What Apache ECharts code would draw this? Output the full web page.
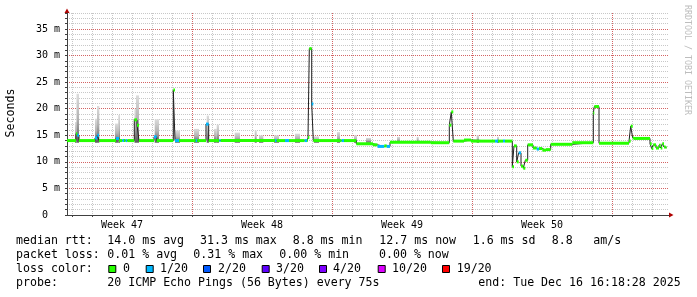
<!DOCTYPE html>
<html><head><meta charset="utf-8">
<script src="https://cdn.jsdelivr.net/npm/echarts@6/dist/echarts.min.js"></script>
<style>html,body{margin:0;padding:0;background:#fff}#c{width:697px;height:297px}</style>
</head><body><div id="c"></div>
<script>
// ---------- data (time in days; day grid lines at integers) ----------
const weekLabels = ['Week 47', 'Week 48', 'Week 49', 'Week 50'];
const weekLabelDays = [2.5, 9.5, 16.5, 23.5];
const dayTicks = [0,1,2,3,4,5,6,7,8,9,10,11,12,13,14,15,16,17,18,19,20,21,22,23,24,25,26,27,28,29];
const yGridValues = [0,1,2,3,4,5,6,7,8,9,10,11,12,13,14,15,16,17,18,19,20,21,22,23,24,25,26,27,28,29,30,31,32,33,34,35,36,37,38];

// median rtt (ms) as steps: value holds from start until next start
const medianStart = [-0.25,0.2,0.265,0.35,1.15,1.265,1.35,2.2,2.35,2.515,2.6,2.685,2.765,3.115,3.25,3.35,4.1,4.235,5.065,5.15,5.35,6.185,6.265,6.7,6.835,7.365,7.435,10.15,10.235,10.65,10.85,11.635,11.765,11.8,11.865,11.985,12.065,13.485,13.6,14.215,15.05,15.275,15.615,15.735,15.9,17.935,18.865,18.965,19.065,19.6,19.95,21.15,21.3,21.55,21.65,22.015,22.1,22.235,22.335,22.45,22.565,22.665,22.785,23.05,23.235,23.35,23.515,23.7,23.935,25.015,26.065,26.115,26.35,27.85,27.935,28.035,28.1,28.9,28.985,29.065,29.2,29.35,29.435,29.515,29.6,29.685];
const medianValue = [14.0,15.3,15.0,14.0,14.5,15.0,14.0,14.4,14.0,14.0,14.0,14.0,14.0,17.9,16.9,14.0,14.7,14.0,23.5,14.0,14.0,14.0,14.0,17.1,14.0,14.0,14.0,14.0,14.0,14.0,14.0,14.0,14.0,14.6,31.3,20.9,14.0,14.0,14.0,13.4,13.2,12.9,13.0,12.9,13.7,13.6,16.9,19.4,13.9,14.1,13.9,13.9,13.9,13.9,13.9,9.1,13.0,10.0,11.7,9.2,8.8,10.3,13.2,12.6,12.4,12.5,12.2,12.3,13.3,13.6,19.2,20.4,13.5,13.9,16.7,14.5,14.4,13.4,12.5,13.2,12.6,13.1,12.6,13.4,12.8,12.7];
const medianLoss = [0,0,1,0,1,1,0,1,0,1,0,1,0,0,0,0,1,0,0,1,0,1,0,1,0,1,0,1,0,1,0,1,0,0,0,1,0,1,0,0,0,1,0,1,0,0,0,0,0,0,0,1,0,1,0,0,0,0,1,0,0,0,0,0,1,0,0,0,0,0,0,0,0,0,0,0,0,0,0,0,0,0,0,0,0,0];
const medianEnd = 29.725;

// smoke columns: start, end, top (ms)
const smokeStart = [0.15,0.225,1.15,1.25,2.15,2.315,3.125,3.2,4.135,5.15,6.1,6.735,7.1,7.235,8.135,9.135,9.35,10.1,11.15,12.1,13.25,14.1,14.7,16.25,17.235,20.235,21.25];
const smokeEnd   = [0.225,0.35,1.25,1.365,2.315,2.4,3.2,3.35,4.35,5.4,6.35,6.85,7.235,7.35,8.4,9.235,9.565,10.35,11.4,12.35,13.4,14.25,14.95,16.4,17.335,20.35,21.35];
const smokeTop   = [17.5,22.8,18.1,20.5,17.2,18.8,20.0,22.5,18.0,15.9,16.2,18.7,16.2,17.0,15.5,15.9,15.0,15.0,15.3,14.8,15.6,15.0,14.5,14.7,14.7,15.0,14.7];

// legend content
const lossLabels = ['0', '1/20', '2/20', '3/20', '4/20', '10/20', '19/20'];
const lossColors = ['#26ff00', '#00b8ff', '#0059ff', '#5e00ff', '#7e00ff', '#dd00ff', '#ff0000'];
const rttStats = ['14.0 ms avg', '31.3 ms max', '8.8 ms min', '12.7 ms now', '1.6 ms sd', '8.8', 'am/s'];
const lossStats = ['0.01 % avg', '0.31 % max', '0.00 % min', '0.00 % now'];
const probeText = '20 ICMP Echo Pings (56 Bytes) every 75s';
const endText = 'end: Tue Dec 16 16:18:28 2025';

// ---------- layout ----------
const MONO = '"DejaVu Sans Mono", monospace';
const LF = 11.6;
const rttX = [107.3, 200, 292.7, 379.3, 472.7, 551.7, 593.3];
const lossX = [107.3, 193.3, 279.3, 379];
const boxX = [108.3, 145.7, 203, 261.7, 319, 377.7, 442];
const boxLabelX = [123, 160, 218, 276, 333, 392, 456.7];
const rowY = [241, 255, 269, 283];

const GRAY = '#c8c8c8', RED = '#d46464';
// day lines: every 7th (Monday) is the red major line
const xSplitColors = [GRAY, GRAY, GRAY, GRAY, GRAY, GRAY, RED];
const ySplitColors = [RED, GRAY, GRAY, GRAY, GRAY];

const medianLine = medianStart.map((t, i) => [t, medianValue[i]]);
medianLine.push([medianEnd, medianValue[medianValue.length - 1]]);
const bandData = medianStart.map((t, i) => [t, i + 1 < medianStart.length ? medianStart[i + 1] : medianEnd, medianValue[i], medianLoss[i]]);
const smokeData = smokeStart.map((t, i) => [t, smokeEnd[i], smokeTop[i], 13.6]);

const graphics = [];
function txt(x, y, s, extra) {
  graphics.push({type: 'text', x: x, y: y, silent: true,
    style: Object.assign({text: s, fontFamily: MONO, fontSize: LF, fill: '#000', verticalAlign: 'middle', align: 'left'}, extra || {})});
}
txt(16, rowY[0], 'median rtt:');
rttStats.forEach((s, i) => txt(rttX[i], rowY[0], s));
txt(16, rowY[1], 'packet loss:');
lossStats.forEach((s, i) => txt(lossX[i], rowY[1], s));
txt(16, rowY[2], 'loss color:');
lossLabels.forEach((s, i) => {
  graphics.push({type: 'rect', silent: true, shape: {x: boxX[i] + 0.5, y: rowY[2] - 3.5, width: 7, height: 7},
    style: {fill: lossColors[i], stroke: '#000', lineWidth: 1}});
  txt(boxLabelX[i], rowY[2], s);
});
txt(16, rowY[3], 'probe:');
txt(107.3, rowY[3], probeText);
txt(478.3, rowY[3], endText);
// y axis title
graphics.push({type: 'text', x: 11, y: 113, rotation: Math.PI / 2, silent: true,
  style: {text: 'Seconds', fontFamily: MONO, fontSize: LF, fill: '#000', align: 'center', verticalAlign: 'middle'}});
// watermark
graphics.push({type: 'text', x: 687.5, y: 60, rotation: -Math.PI / 2, silent: true,
  style: {text: 'RRDTOOL / TOBI OETIKER', fontFamily: MONO, fontSize: 8.3, fill: '#bdbdbd', align: 'center', verticalAlign: 'middle'}});
// axis arrows
graphics.push({type: 'polygon', silent: true, shape: {points: [[64.5, 13], [69.5, 13], [67, 8.5]]}, style: {fill: '#b00000'}});
graphics.push({type: 'polygon', silent: true, shape: {points: [[669, 212.5], [669, 217.5], [673.5, 215]]}, style: {fill: '#b00000'}});

const chart = echarts.init(document.getElementById('c'), null, {renderer: 'canvas'});
chart.setOption({
  animation: false,
  backgroundColor: '#fff',
  grid: {left: 67, right: 28, top: 13, bottom: 82, containLabel: false, outerBoundsMode: 'none'},
  xAxis: {
    type: 'value', min: -0.25, max: 29.85,
    axisLine: {show: true, onZero: false, lineStyle: {color: '#404040', width: 1}},
    axisTick: {show: true, customValues: dayTicks, length: 2, lineStyle: {color: '#404040'}},
    axisLabel: {show: true, customValues: weekLabelDays, margin: 5, fontFamily: MONO, fontSize: 10, color: '#000',
      formatter: function (v) { const i = weekLabelDays.findIndex(d => Math.abs(d - v) < 1e-6); return i >= 0 ? weekLabels[i] : ''; }},
    splitLine: {show: true, lineStyle: {color: xSplitColors, type: [1, 1], width: 1}}
  },
  yAxis: {
    type: 'value', min: 0, max: 38,
    axisLine: {show: true, onZero: false, lineStyle: {color: '#404040', width: 1}},
    axisTick: {show: true, customValues: yGridValues, length: 2, lineStyle: {color: '#404040'}},
    axisLabel: {show: true, customValues: yGridValues, margin: 7, fontFamily: MONO, fontSize: 10, color: '#000',
      formatter: function (v) { return v % 5 === 0 ? (v === 0 ? '0\u00a0\u00a0' : v + ' m') : ''; }},
    splitLine: {show: true, lineStyle: {color: ySplitColors, type: [1, 1], width: 1}}
  },
  series: [
    {
      type: 'custom', name: 'smoke', z: 1, clip: true,
      encode: {x: [0, 1], y: [2, 3]},
      data: smokeData,
      renderItem: function (params, api) {
        const p0 = api.coord([api.value(0), api.value(2)]);
        const p1 = api.coord([api.value(1), api.value(3)]);
        return {type: 'rect', shape: {x: p0[0], y: p0[1], width: p1[0] - p0[0], height: p1[1] - p0[1]},
          style: {fill: {type: 'linear', x: 0, y: 0, x2: 0, y2: 1, colorStops: [
            {offset: 0, color: '#dcdcdc'}, {offset: 0.5, color: '#b4b4b4'}, {offset: 1, color: '#5a5a5a'}]}}};
      }
    },
    {
      type: 'line', name: 'median', z: 2, step: 'end', symbol: 'none', data: medianLine,
      lineStyle: {color: '#202020', width: 1}, silent: true
    },
    {
      type: 'custom', name: 'loss band', z: 3, clip: true,
      encode: {x: [0, 1], y: 2},
      data: bandData,
      renderItem: function (params, api) {
        const v = api.value(2);
        const p0 = api.coord([api.value(0), v]);
        const p1 = api.coord([api.value(1), v]);
        return {type: 'rect', shape: {x: p0[0], y: p0[1] - 1.5, width: p1[0] - p0[0], height: 3},
          style: {fill: lossColors[api.value(3)]}};
      }
    }
  ],
  graphic: graphics
});
</script>
</body></html>
